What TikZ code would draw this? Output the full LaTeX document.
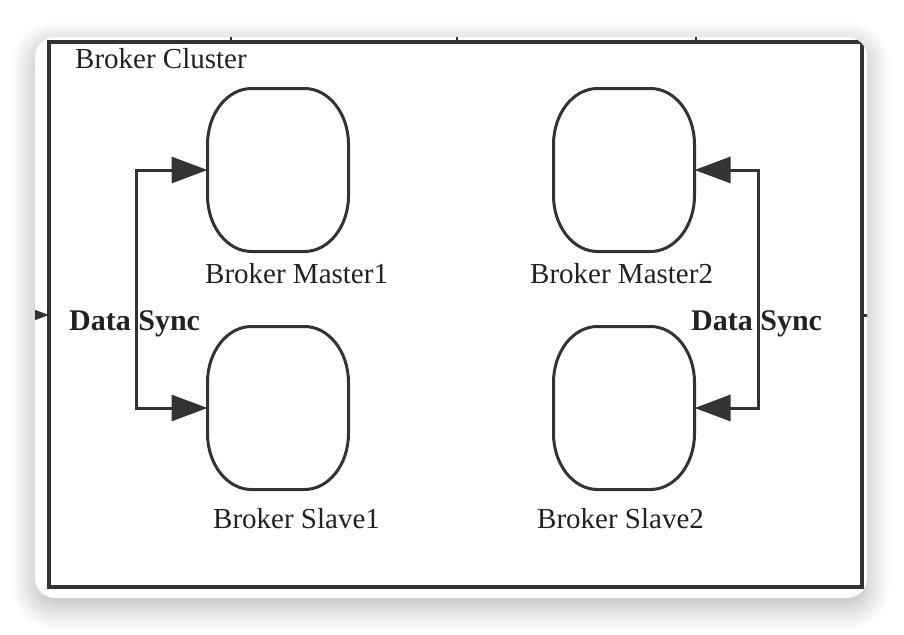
\documentclass[tikz,border=0pt]{standalone}
\usepackage{fontspec}
\setmainfont{Liberation Serif}
\usetikzlibrary{arrows.meta,shadows.blur}
\definecolor{ink}{HTML}{333333}
\definecolor{txt}{HTML}{222222}
\tikzset{
  broker/.style={minimum width=141pt, minimum height=163pt, inner sep=0pt, outer sep=0pt},
  brokerline/.style={draw=ink, line width=3pt, x=1pt, y=1pt},
  lbl/.style={anchor=base west, inner sep=0pt, text=txt, font=\fontsize{29}{34}\selectfont},
  synclbl/.style={lbl, font=\fontsize{30}{36}\selectfont\bfseries},
  bigtip/.tip={Triangle[length=36pt,width=26pt]},
  sync/.style={draw=ink, line width=3pt, bigtip-bigtip},
}
\begin{document}
\begin{tikzpicture}[x=1pt,y=-1pt]
\useasboundingbox (0,0) rectangle (904,634);
\path[fill=white, rounded corners=20pt,
  blur shadow={shadow xshift=0pt, shadow yshift=-8pt, shadow blur radius=24pt,
    shadow blur steps=20, shadow opacity=30}]
  (35,37) rectangle (867,598);
\begin{scope}
\clip[rounded corners=20pt] (35,37) rectangle (867,598);
\node[draw=ink, line width=3.5pt, minimum width=813pt, minimum height=545pt,
  inner sep=0pt, outer sep=0pt, anchor=north west] (cluster) at (49,42) {};
\foreach \tx in {231,457,696}
  \draw[ink, line width=2pt] (\tx,20) -- (\tx,42);
\coordinate (inL) at (10,315);
\coordinate (outR) at (900,315);
\draw[ink, line width=3pt, -bigtip] (inL) -- (inL -| cluster.west);
\draw[ink, line width=3pt] (outR -| cluster.east) -- (outR);
\end{scope}
\node[lbl] (clusterlbl) at (75,68) {Broker Cluster};

\node[broker] (master1) at (278,170) {};
\node[broker] (slave1) at (278,408) {};
\node[broker] (master2) at (624,170) {};
\node[broker] (slave2) at (624,408) {};
\foreach \b in {master1,slave1,master2,slave2}
  \draw[brokerline] ([xshift=44pt]\b.north west) -- ++(53,0)
    arc[start angle=90, end angle=0, x radius=44, y radius=56] -- ++(0,-51)
    arc[start angle=0, end angle=-90, x radius=44, y radius=56] -- ++(-53,0)
    arc[start angle=-90, end angle=-180, x radius=44, y radius=56] -- ++(0,51)
    arc[start angle=180, end angle=90, x radius=44, y radius=56] -- cycle;

\node[lbl] (master1lbl) at (205,283) {Broker Master1};
\node[lbl] (master2lbl) at (530,283) {Broker Master2};
\node[lbl] (slave1lbl) at (213,528) {Broker Slave1};
\node[lbl] (slave2lbl) at (537,528) {Broker Slave2};

\node[synclbl] (syncL) at (69,330) {Data Sync};
\node[synclbl] (syncR) at (691,330) {Data Sync};
\draw[sync] (master1.west) -- ++(-71,0) |- (slave1.west);
\draw[sync] (master2.east) -- ++(64,0) |- (slave2.east);
\end{tikzpicture}
\end{document}
